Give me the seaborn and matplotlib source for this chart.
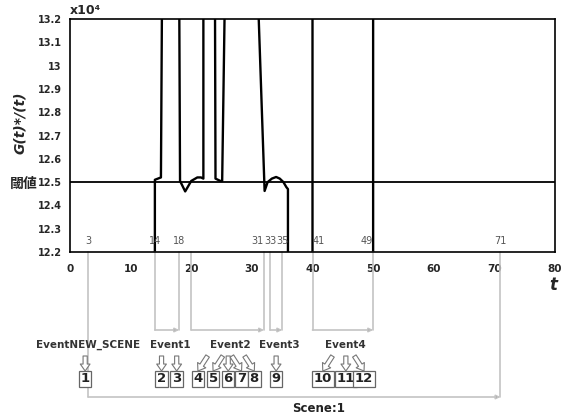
import numpy as np
import pandas as pd
import seaborn as sns
import matplotlib
matplotlib.use("Agg")
from matplotlib import pyplot as plt
from matplotlib import transforms

# curve G(t)*/I(t)  (values above 13.2 / below 12.2 run off the chart)
t_vals = [14, 14, 15, 15.2, 18, 18.15, 19.0, 20.0, 21.0, 21.6, 22.0, 22.0,
          23.9, 24.0, 24.8, 25.1, 25.6, 31.0, 32.1, 32.6, 33.3, 34.0, 34.6,
          35.2, 35.7, 35.95, 35.95, 40.0, 40.0, 50.0, 50.0]
g_vals = [12.0, 12.51, 12.52, 13.4, 13.4, 12.505, 12.46, 12.505, 12.52, 12.52,
          12.515, 13.4, 13.4, 12.515, 12.505, 12.505, 13.4, 13.3, 12.462, 12.5,
          12.515, 12.522, 12.515, 12.5, 12.478, 12.47, 12.0, 12.0, 13.4, 13.4, 12.0]
threshold = 12.5

frame_labels = [3, 14, 18, 31, 33, 35, 41, 49, 71]
events = ["Event1", "Event2", "Event3", "Event4"]
event_start = [14, 20, 33, 40]
event_end = [18, 32, 35, 50]
scene_start, scene_end = 3, 71
box_nums = [str(i) for i in range(1, 13)]
arrow_dirs = [0, 0, 0, 1, 1, 0, -1, -1, 0, 1, 0, -1]   # 1: down-left, -1: down-right

W, H = 565, 417
sns.set_style("white")
plt.rcParams['font.family'] = ['DejaVu Sans', 'Noto Sans CJK JP']
fig = plt.figure(figsize=(W / 100, H / 100), dpi=100)
ax = fig.add_axes([70 / W, 1 - 252 / H, 485 / W, 233 / H])

def fy(py):
    return 1 - py / H

df = pd.DataFrame({"t": t_vals, "g": g_vals})
sns.lineplot(data=df, x="t", y="g", sort=False, estimator=None, color="black",
             lw=1.7, ax=ax)
ax.axhline(threshold, color="black", lw=1.3)

ax.set_xlim(0, 80)
ax.set_ylim(12.2, 13.2)
ax.set_xticks(range(0, 81, 10))
yt = np.round(np.arange(12.2, 13.21, 0.1), 1)
ax.set_yticks(yt)
ax.set_yticklabels([f"{v:g}" for v in yt])
ax.tick_params(axis="x", direction="in", length=3, pad=9, labelsize=7.5, width=0.8)
ax.tick_params(axis="y", direction="in", length=3, pad=6, labelsize=7, width=0.8)
for lab in ax.get_xticklabels() + ax.get_yticklabels():
    lab.set_fontweight("bold")
for s in ax.spines.values():
    s.set_color("black")
    s.set_linewidth(1.2)
ax.set_xlabel("")
ax.set_ylabel("")

# frame numbers above the axis
for f in frame_labels:
    ax.text(f, 12.225, str(f), ha="center", va="bottom", fontsize=7, color="#555")

tr = transforms.blended_transform_factory(ax.transData, fig.transFigure)
gray = "#c4c4c4"

# event brackets
for name, a, b in zip(events, event_start, event_end):
    for x in (a, b):
        ax.plot([x, x], [fy(252), fy(330)], color=gray, lw=1.2, transform=tr, clip_on=False)
    ax.annotate("", xy=(b, fy(330)), xytext=(a, fy(330)), xycoords=tr, textcoords=tr,
                arrowprops=dict(arrowstyle="-|>", ec=gray, fc="#222", lw=1.2,
                                mutation_scale=6, shrinkA=0, shrinkB=0))
    ax.text((a + b) / 2 + 0.5, fy(345), name, transform=tr, ha="center", va="center",
            fontsize=7.5, fontweight="bold", color="#333")
ax.text(scene_start, fy(345), "EventNEW_SCENE", transform=tr, ha="center", va="center",
        fontsize=7.5, fontweight="bold", color="#333")

# scene line
for x in (scene_start, scene_end):
    ax.plot([x, x], [fy(252), fy(397)], color=gray, lw=1.2, transform=tr, clip_on=False)
ax.annotate("", xy=(scene_end, fy(397)), xytext=(scene_start, fy(397)), xycoords=tr,
            textcoords=tr, arrowprops=dict(arrowstyle="-|>", ec=gray, fc="#222", lw=1.2,
                                           mutation_scale=6, shrinkA=0, shrinkB=0))
ax.text(41, fy(408), "Scene:1", transform=tr, ha="center", va="center",
        fontsize=8.5, fontweight="bold", color="#222")

# numbered boxes with hollow arrows
box_x = [2.5, 15.1, 17.6, 21.1, 23.6, 26.1, 28.3, 30.4, 34.0, 41.7, 45.5, 48.5]
for n, x, d in zip(box_nums, box_x, arrow_dirs):
    ax.text(x, fy(379), n, transform=tr, ha="center", va="center", fontsize=9.5,
            fontweight="bold", color="#222",
            bbox=dict(boxstyle="square,pad=0.12", fc="white", ec="#666", lw=0.9))
    ax.annotate("", xy=(x, fy(371)), xytext=(x + d * 1.6, fy(356)), xycoords=tr,
                textcoords=tr,
                arrowprops=dict(arrowstyle="simple,head_length=0.5,head_width=0.7,tail_width=0.3",
                                fc="white", ec="#777", lw=0.8, shrinkA=0, shrinkB=0,
                                mutation_scale=10))

# axis annotations
fig.text(70 / W, fy(11), "x10⁴", ha="left", va="center", fontsize=9, fontweight="bold")
fig.text(20 / W, fy(123), "G(t)*/(t)", rotation=90, ha="center", va="center",
         fontsize=10, fontweight="bold", fontstyle="italic")
fig.text(24 / W, fy(184), "閾値", ha="center", va="center", fontsize=10,
         fontweight="bold", family=["Noto Sans CJK JP", "DejaVu Sans"])
fig.text(553 / W, fy(285), "t", ha="center", va="center", fontsize=12,
         fontweight="bold", fontstyle="italic")

fig.savefig("out.png", dpi=100)
